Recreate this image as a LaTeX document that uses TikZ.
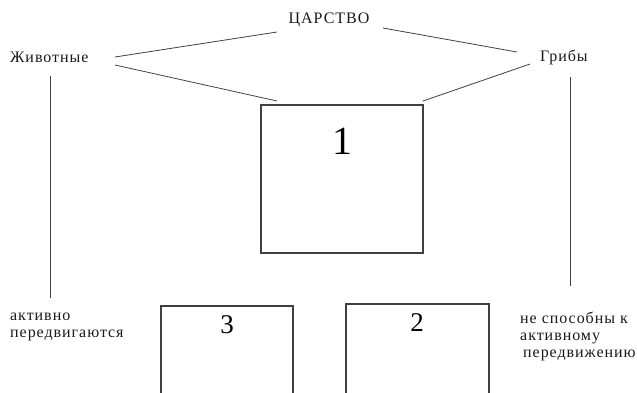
\documentclass[tikz,border=0pt]{standalone}
\usepackage{fontspec}
\setmainfont{Liberation Serif}[LetterSpace=6]
\newfontfamily\numfont{Liberation Serif}
\begin{document}
\begin{tikzpicture}[x=1pt,y=-1pt,
  lbl/.style={inner sep=0pt,font=\fontsize{16}{17}\selectfont,text=black!90},
  conn/.style={draw=black!75,line width=0.8pt},
  frame/.style={draw=black!75,line width=1.3pt,fill=white},
  num/.style={inner sep=0pt,text=black}]
\useasboundingbox (0,0) rectangle (637,392);
% texts
\node[lbl] (king) at (329,20) {ЦАРСТВО};
\node[lbl,anchor=west] (anim) at (10,57) {Животные};
\node[lbl,anchor=west] (fungi) at (540,57) {Грибы};
\node[lbl,anchor=north west,align=left] (act) at (10,313) {активно\\передвигаются};
\node[lbl,anchor=north west,align=left] (nact) at (520,312) {не способны к\\активному\\\hspace*{3pt}передвижению};
% boxes
\draw[frame] (261,105) rectangle (423,253);
\node[num,font=\numfont\fontsize{40}{40}\selectfont] (one) at (342,141) {1};
\draw[frame] (161,306) rectangle (293,395);
\node[num,font=\numfont\fontsize{27}{27}\selectfont] (three) at (227,325) {3};
\draw[frame] (346,304) rectangle (489,395);
\node[num,font=\numfont\fontsize{27}{27}\selectfont] (two) at (417,323) {2};
% connectors
\coordinate (kl) at (277,32);
\coordinate (kr) at (383,28);
\coordinate (al) at (115,57);
\coordinate (al2) at (115,65);
\coordinate (fr) at (517,52);
\coordinate (fr2) at (530,64);
\coordinate (b1l) at (277,101);
\coordinate (b1r) at (423,101);
\draw[conn] (kl) -- (al);
\draw[conn] (al2) -- (b1l);
\draw[conn] (kr) -- (fr);
\draw[conn] (fr2) -- (b1r);
\coordinate (vl1) at (50,76);
\coordinate (vl2) at (50,298);
\coordinate (vr1) at (570,77);
\coordinate (vr2) at (570,286);
\draw[conn] (vl1) -- (vl2);
\draw[conn] (vr1) -- (vr2);
\end{tikzpicture}
\end{document}
